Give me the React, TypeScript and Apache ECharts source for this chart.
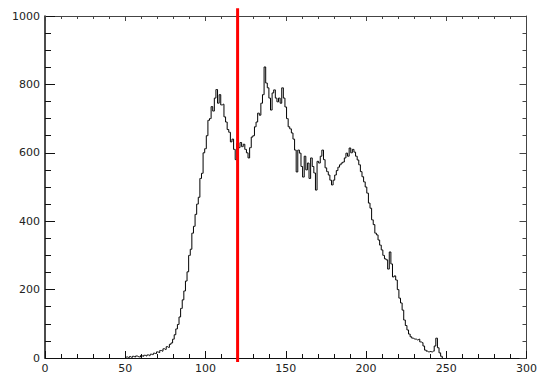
import React, { useEffect, useRef } from "react";
import * as echarts from "echarts";

const startX = 50;
const counts: number[] = [
  2, 3, 1, 4, 2, 5, 3, 6, 4, 3,
  7, 5, 8, 6, 9, 7, 11, 10, 14, 13,
  18, 16, 22, 20, 27, 25, 33, 31, 40, 44,
  55, 68, 85, 98, 120, 145, 170, 196, 225, 252,
  300, 318, 365, 385, 420, 450, 470, 525, 540, 600,
  612, 650, 695, 700, 735, 722, 760, 785, 745, 770,
  740, 742, 705, 690, 668, 660, 632, 640, 610, 580,
  628, 615, 630, 618, 625, 610, 600, 585, 615, 646,
  650, 676, 690, 716, 710, 745, 770, 851, 804, 790,
  760, 725, 775, 784, 760, 749, 760, 745, 790, 760,
  734, 700, 676, 670, 658, 640, 608, 544, 608, 599,
  560, 529, 590, 550, 570, 525, 585, 560, 541, 491,
  575, 570, 590, 608, 580, 556, 545, 535, 520, 506,
  520, 535, 548, 558, 565, 570, 573, 585, 599, 590,
  614, 600, 610, 602, 590, 579, 565, 545, 530, 515,
  500, 482, 453, 438, 404, 390, 365, 360, 345, 330,
  316, 300, 290, 287, 260, 310, 275, 237, 240, 228,
  200, 175, 161, 140, 111, 95, 82, 70, 62, 58,
  56, 55, 53, 55, 47, 45, 35, 23, 20, 18,
  19, 18, 20, 35, 58, 30, 15, 5, 0,
];
const markerX = 120;
const markerY: number[] = [-12, 1023];
const xTicks = { min: 0, max: 300, interval: 50 };
const yTicks = { min: 0, max: 1000, interval: 200 };

export default function App() {
  const ref = useRef<HTMLDivElement>(null);
  useEffect(() => {
    if (!ref.current) return;
    const chart = echarts.init(ref.current, undefined, { renderer: "svg" });
    const data = counts.map((v, i) => [startX + i, v]);
    const axisFont = {
      fontFamily: "DejaVu Sans",
      fontSize: 11,
      color: "#222",
      formatter: (v: number) => String(v),
    };
    chart.setOption({
      animation: false,
      backgroundColor: "#fff",
      grid: { left: 45, right: 8, top: 16, bottom: 20 },
      xAxis: [
        {
          type: "value",
          ...xTicks,
          position: "bottom",
          axisLine: { show: true, onZero: false, lineStyle: { color: "#111", width: 1 } },
          axisTick: { show: true, inside: true, length: 7, lineStyle: { color: "#111" } },
          minorTick: { show: true, splitNumber: 5, length: 4, lineStyle: { color: "#111" } },
          axisLabel: { ...axisFont, margin: 5 },
          splitLine: { show: false },
        },
        {
          type: "value",
          ...xTicks,
          position: "top",
          axisLine: { show: true, onZero: false, lineStyle: { color: "#444", width: 1 } },
          axisTick: { show: true, inside: true, length: 5, lineStyle: { color: "#444" } },
          minorTick: { show: true, splitNumber: 5, length: 3, lineStyle: { color: "#444" } },
          axisLabel: { show: false },
          splitLine: { show: false },
        },
      ],
      yAxis: [
        {
          type: "value",
          ...yTicks,
          position: "left",
          axisLine: { show: true, onZero: false, lineStyle: { color: "#111", width: 1.5 } },
          axisTick: { show: true, inside: true, length: 10, lineStyle: { color: "#111" } },
          minorTick: { show: true, splitNumber: 4, length: 6, lineStyle: { color: "#111" } },
          axisLabel: { ...axisFont, margin: 5 },
          splitLine: { show: false },
        },
        {
          type: "value",
          ...yTicks,
          position: "right",
          axisLine: { show: true, onZero: false, lineStyle: { color: "#444", width: 1 } },
          axisTick: { show: true, inside: true, length: 7, lineStyle: { color: "#444" } },
          minorTick: { show: true, splitNumber: 4, length: 4, lineStyle: { color: "#444" } },
          axisLabel: { show: false },
          splitLine: { show: false },
        },
      ],
      series: [
        {
          type: "line",
          data,
          step: "middle",
          showSymbol: false,
          symbol: "none",
          lineStyle: { color: "#000", width: 1 },
          xAxisIndex: 0,
          yAxisIndex: 0,
        },
        {
          type: "line",
          data: markerY.map((y) => [markerX, y]),
          showSymbol: false,
          symbol: "none",
          clip: false,
          lineStyle: { color: "#ff0000", width: 3 },
          xAxisIndex: 0,
          yAxisIndex: 0,
        },
      ],
    });
    return () => chart.dispose();
  }, []);
  return (
    <div
      ref={ref}
      style={{ position: "fixed", left: 0, top: 0, width: 540, height: 378 }}
    />
  );
}
